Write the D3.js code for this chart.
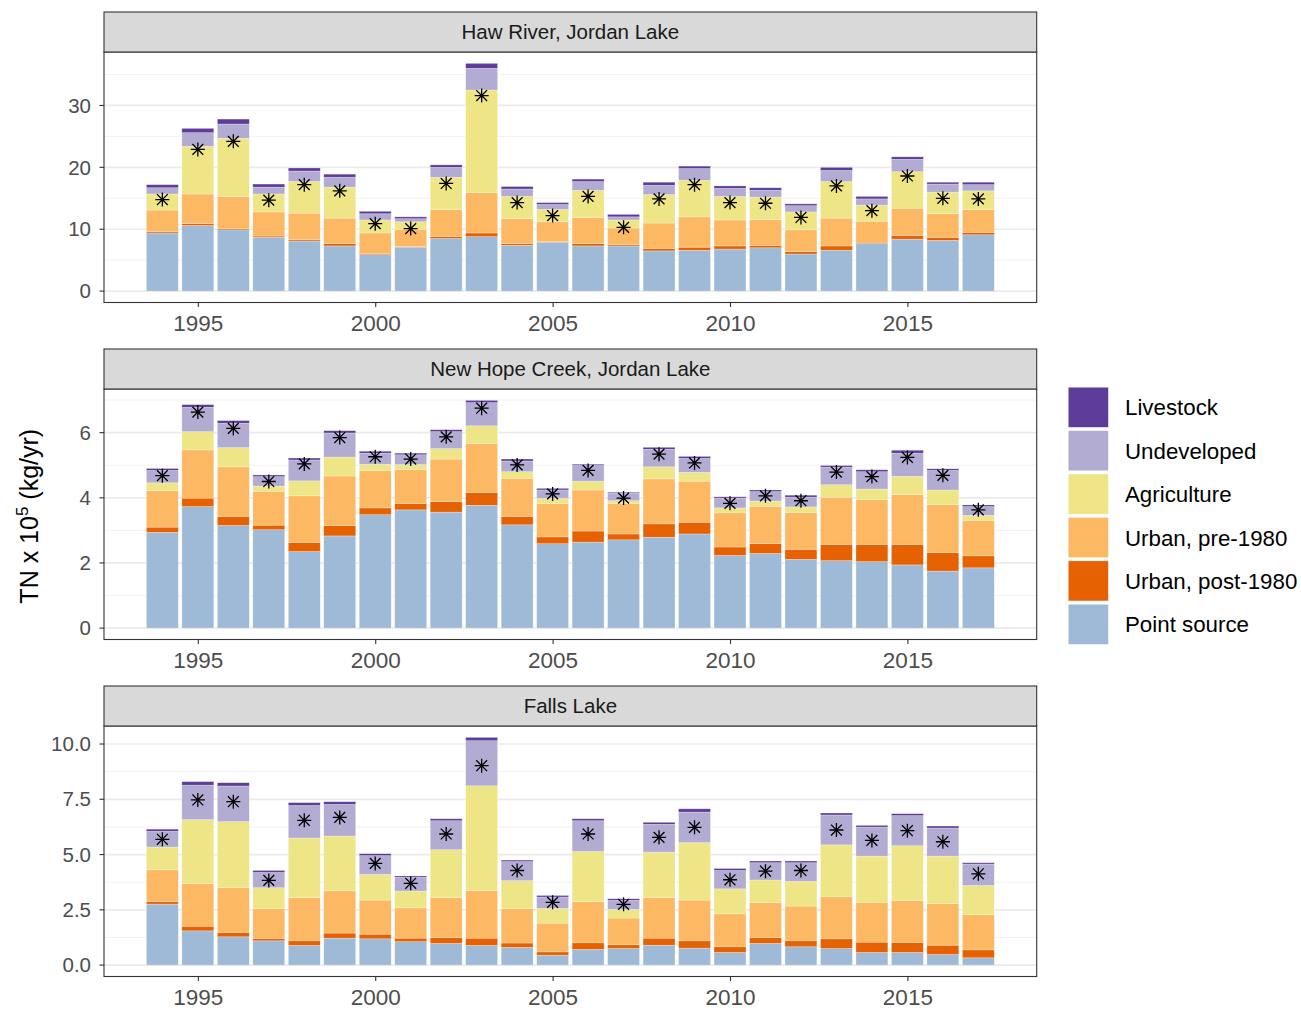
<!DOCTYPE html>
<html>
<head>
<meta charset="utf-8">
<script src="https://cdn.jsdelivr.net/npm/d3@7"></script>
<style>
  html, body { margin: 0; padding: 0; background: #ffffff; }
  svg { display: block; font-family: "Liberation Sans", Arial, sans-serif; }
</style>
</head>
<body>
<svg id="chart" width="1301" height="1011"></svg>
<script>
// ---------------- DATA ----------------
const years = [1994,1995,1996,1997,1998,1999,2000,2001,2002,2003,2004,2005,
               2006,2007,2008,2009,2010,2011,2012,2013,2014,2015,2016,2017];
const sources = ["Point source","Urban, post-1980","Urban, pre-1980","Agriculture","Undeveloped","Livestock"];
const panelTitles = ["Haw River, Jordan Lake","New Hope Creek, Jordan Lake","Falls Lake"];
const xTickValues = [1995,2000,2005,2010,2015];

// Haw River, Jordan Lake (TN x 10^5 kg/yr per source)
const haw_point     = [9.4,10.6,9.9,8.7,8.1,7.3,5.9,7.1,8.5,8.8,7.4,7.9,7.3,7.3,6.5,6.6,6.8,7.0,6.0,6.6,7.7,8.4,8.2,9.1];
const haw_post1980  = [0.2,0.3,0.2,0.2,0.2,0.4,0.2,0.1,0.3,0.6,0.3,0.1,0.4,0.2,0.4,0.5,0.5,0.4,0.4,0.7,0.2,0.6,0.5,0.4];
const haw_pre1980   = [3.5,4.8,5.2,3.9,4.3,4.1,3.3,2.8,4.4,6.5,4.0,3.2,4.2,2.7,4.1,4.9,4.2,4.2,3.5,4.5,3.4,4.4,3.8,3.7];
const haw_ag        = [2.6,7.7,9.4,2.9,5.1,5.0,2.1,1.2,5.2,16.6,3.6,2.0,4.4,1.3,4.6,5.9,3.8,3.6,2.9,5.9,2.6,5.9,3.5,3.0];
const haw_undev     = [1.0,2.2,2.3,1.1,1.7,1.6,1.0,0.5,1.6,3.5,1.2,0.8,1.4,0.5,1.5,1.9,1.3,1.1,1.0,1.8,1.0,2.0,1.3,1.0];
const haw_livestock = [0.5,0.7,0.8,0.5,0.5,0.5,0.4,0.3,0.4,0.8,0.4,0.3,0.4,0.4,0.5,0.4,0.4,0.4,0.3,0.5,0.4,0.4,0.3,0.4];
const haw_observed  = [14.8,22.9,24.2,14.7,17.2,16.2,10.9,10.1,17.4,31.6,14.3,12.2,15.3,10.3,14.9,17.2,14.3,14.2,11.9,17.0,13.0,18.6,15.0,14.9];

// New Hope Creek, Jordan Lake
const nh_point      = [2.94,3.73,3.15,3.02,2.35,2.83,3.48,3.63,3.56,3.77,3.17,2.59,2.64,2.71,2.79,2.89,2.23,2.29,2.11,2.07,2.04,1.94,1.75,1.85];
const nh_post1980   = [0.16,0.26,0.28,0.14,0.28,0.32,0.21,0.20,0.32,0.39,0.26,0.21,0.34,0.18,0.41,0.36,0.26,0.30,0.31,0.50,0.53,0.63,0.57,0.37];
const nh_pre1980    = [1.12,1.48,1.52,1.04,1.43,1.52,1.14,1.04,1.31,1.51,1.17,1.02,1.26,0.94,1.38,1.26,1.05,1.15,1.13,1.45,1.37,1.53,1.47,1.09];
const nh_ag         = [0.24,0.56,0.59,0.16,0.46,0.58,0.20,0.15,0.32,0.54,0.20,0.16,0.27,0.08,0.37,0.27,0.15,0.16,0.17,0.38,0.33,0.56,0.45,0.15];
const nh_undev      = [0.38,0.75,0.75,0.29,0.64,0.74,0.34,0.30,0.52,0.71,0.33,0.26,0.48,0.23,0.54,0.43,0.30,0.29,0.30,0.54,0.53,0.71,0.60,0.27];
const nh_livestock  = [0.06,0.08,0.08,0.05,0.06,0.07,0.06,0.05,0.06,0.07,0.06,0.05,0.04,0.03,0.06,0.06,0.04,0.05,0.06,0.05,0.06,0.09,0.05,0.05];
const nh_observed   = [4.68,6.63,6.13,4.50,5.04,5.85,5.26,5.19,5.87,6.75,5.01,4.12,4.84,3.99,5.34,5.07,3.83,4.06,3.91,4.79,4.65,5.24,4.69,3.63];

// Falls Lake
const fl_point      = [2.76,1.55,1.28,1.10,0.89,1.22,1.19,1.06,0.98,0.89,0.80,0.45,0.71,0.75,0.90,0.77,0.57,0.98,0.83,0.75,0.57,0.57,0.48,0.33];
const fl_post1980   = [0.12,0.21,0.20,0.11,0.21,0.23,0.21,0.16,0.26,0.33,0.20,0.15,0.30,0.17,0.32,0.33,0.26,0.27,0.27,0.44,0.47,0.46,0.42,0.36];
const fl_pre1980    = [1.43,1.94,2.02,1.35,1.96,1.91,1.54,1.37,1.82,2.16,1.56,1.30,1.86,1.21,1.84,1.84,1.49,1.57,1.57,1.90,1.80,1.90,1.89,1.60];
const fl_ag         = [1.03,2.88,2.99,0.94,2.69,2.48,1.16,0.76,2.16,4.73,1.26,0.66,2.27,0.39,2.05,2.60,1.13,1.03,1.12,2.35,2.09,2.47,2.14,1.31];
const fl_undev      = [0.71,1.56,1.61,0.69,1.47,1.43,0.85,0.62,1.31,2.04,0.86,0.52,1.39,0.41,1.26,1.38,0.83,0.78,0.84,1.35,1.31,1.36,1.27,0.97];
const fl_livestock  = [0.10,0.16,0.15,0.09,0.13,0.12,0.09,0.06,0.09,0.15,0.07,0.07,0.09,0.07,0.09,0.15,0.09,0.08,0.08,0.09,0.08,0.09,0.09,0.06];
const fl_observed   = [5.69,7.47,7.39,3.83,6.55,6.68,4.60,3.70,5.93,9.02,4.28,2.84,5.93,2.75,5.78,6.23,3.86,4.25,4.28,6.11,5.64,6.08,5.58,4.13];

// y-axis ticks per panel
const yTicks  = [[0,10,20,30],[0,2,4,6],[0,2.5,5,7.5,10]];
const yTickLabels = [["0","10","20","30"],["0","2","4","6"],["0.0","2.5","5.0","7.5","10.0"]];
const yMinor  = [[5,15,25,35],[1,3,5,7],[1.25,3.75,6.25,8.75]];

// ---------------- STYLE / LAYOUT ----------------
const colors = {
  "Point source": "#9fbad7",
  "Urban, post-1980": "#e66101",
  "Urban, pre-1980": "#fdb863",
  "Agriculture": "#ede586",
  "Undeveloped": "#b2abd2",
  "Livestock": "#5e3c99"
};
const legendOrder = ["Livestock","Undeveloped","Agriculture","Urban, pre-1980","Urban, post-1980","Point source"];

const panels = [
  {title: panelTitles[0], series: [haw_point,haw_post1980,haw_pre1980,haw_ag,haw_undev,haw_livestock], obs: haw_observed},
  {title: panelTitles[1], series: [nh_point,nh_post1980,nh_pre1980,nh_ag,nh_undev,nh_livestock], obs: nh_observed},
  {title: panelTitles[2], series: [fl_point,fl_post1980,fl_pre1980,fl_ag,fl_undev,fl_livestock], obs: fl_observed}
];

const svg = d3.select("#chart");
const L = 104, R = 1036.7;
const top0 = 12, stripH = 40, plotH = 250.5, pitch = 337;

const x = d3.scaleLinear().domain([1992.355, 2018.645]).range([L, R]);
const barW = (x(1) - x(0)) * 0.9;

panels.forEach((p, pi) => {
  const stripTop = top0 + pi * pitch;
  const pTop = stripTop + stripH;
  const pBot = pTop + plotH;

  // build stack rows
  const rows = years.map((yr, i) => {
    const o = {year: yr, obs: p.obs[i]};
    sources.forEach((s, si) => o[s] = p.series[si][i]);
    return o;
  });
  const stacked = d3.stack().keys(sources)(rows);
  const maxV = d3.max(stacked[stacked.length - 1], d => d[1]);
  const ext = maxV * 0.05;
  const y = d3.scaleLinear().domain([-ext, maxV + ext]).range([pBot, pTop]);

  const g = svg.append("g");

  // panel background
  g.append("rect").attr("x", L).attr("y", pTop).attr("width", R - L).attr("height", plotH).attr("fill", "#fff");

  // grid
  g.selectAll(".minor").data(yMinor[pi].filter(v => y(v) >= pTop)).join("line")
    .attr("x1", L).attr("x2", R).attr("y1", d => y(d)).attr("y2", d => y(d))
    .attr("stroke", "#f0f0f0").attr("stroke-width", 0.9);
  g.selectAll(".major").data(yTicks[pi]).join("line")
    .attr("x1", L).attr("x2", R).attr("y1", d => y(d)).attr("y2", d => y(d))
    .attr("stroke", "#ebebeb").attr("stroke-width", 1.7);

  // bars
  stacked.forEach(layer => {
    g.append("g").selectAll("rect").data(layer).join("rect")
      .attr("x", d => x(d.data.year) - barW / 2)
      .attr("width", barW)
      .attr("y", d => y(d[1]))
      .attr("height", d => Math.max(0, y(d[0]) - y(d[1])))
      .attr("fill", colors[layer.key])
      .attr("stroke", "#ffffff").attr("stroke-opacity", 0.45).attr("stroke-width", 0.6);
  });

  // asterisks (observed)
  const a = 7, ad = 5.4;
  const ast = g.append("g").selectAll("g").data(rows).join("g")
    .attr("transform", d => `translate(${x(d.year)},${y(d.obs)})`);
  ast.append("path")
    .attr("d", `M${-a},0L${a},0M0,${-a}L0,${a}M${-ad},${-ad}L${ad},${ad}M${-ad},${ad}L${ad},${-ad}`)
    .attr("stroke", "#000").attr("stroke-width", 1.3).attr("fill", "none");

  // panel border
  g.append("rect").attr("x", L).attr("y", pTop).attr("width", R - L).attr("height", plotH)
    .attr("fill", "none").attr("stroke", "#333333").attr("stroke-width", 1.1);

  // strip
  g.append("rect").attr("x", L).attr("y", stripTop).attr("width", R - L).attr("height", stripH)
    .attr("fill", "#d9d9d9").attr("stroke", "#333333").attr("stroke-width", 1.1);
  g.append("text").attr("x", (L + R) / 2).attr("y", stripTop + stripH / 2 + 7.3)
    .attr("text-anchor", "middle").attr("font-size", 20.5).attr("fill", "#1a1a1a").text(p.title);

  // y axis
  yTicks[pi].forEach((v, ti) => {
    g.append("line").attr("x1", L - 4.5).attr("x2", L).attr("y1", y(v)).attr("y2", y(v))
      .attr("stroke", "#333333").attr("stroke-width", 1.1);
    g.append("text").attr("x", L - 13).attr("y", y(v) + 7.2).attr("text-anchor", "end")
      .attr("font-size", 20.5).attr("fill", "#4d4d4d").text(yTickLabels[pi][ti]);
  });

  // x axis
  const xa = d3.axisBottom(x).tickValues(xTickValues).tickFormat(d3.format("d")).tickSize(4.5).tickPadding(6.5);
  const xg = g.append("g").attr("transform", `translate(0,${pBot})`).call(xa);
  xg.select(".domain").remove();
  xg.selectAll(".tick line").attr("stroke", "#333333").attr("stroke-width", 1.1);
  xg.selectAll(".tick text").attr("font-size", 22.5).attr("fill", "#4d4d4d")
    .attr("font-family", "'Liberation Sans', Arial, sans-serif").attr("dy", "0.78em");
});

// y-axis title
const yt = svg.append("text")
  .attr("transform", `translate(38,${(top0 + stripH + top0 + 2 * pitch + stripH + plotH) / 2 + 2}) rotate(-90)`)
  .attr("text-anchor", "middle").attr("font-size", 25).attr("fill", "#000");
yt.append("tspan").text("TN x 10");
yt.append("tspan").attr("font-size", 17).attr("dy", -10).text("5");
yt.append("tspan").attr("dy", 10).text(" (kg/yr)");

// legend
const lg = svg.append("g");
legendOrder.forEach((k, i) => {
  const ky = 387.3 + i * 43.4;
  lg.append("rect").attr("x", 1068.3).attr("y", ky).attr("width", 40).attr("height", 40)
    .attr("fill", colors[k]).attr("stroke", "#fff").attr("stroke-opacity", 0.45).attr("stroke-width", 0.6);
  lg.append("text").attr("x", 1125).attr("y", ky + 20 + 8).attr("font-size", 22.3).attr("fill", "#000").text(k);
});
</script>
</body>
</html>
